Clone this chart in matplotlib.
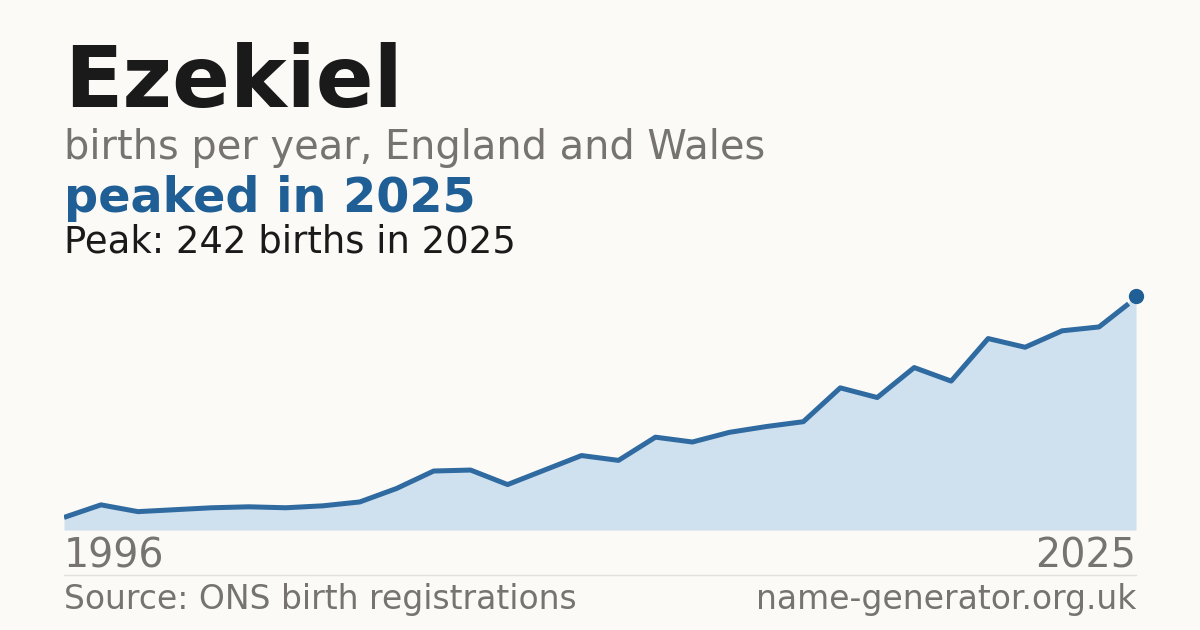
import matplotlib
matplotlib.use("Agg")
import matplotlib.pyplot as plt

years = list(range(1996, 2026))
births = [13, 26, 19, 21, 23, 24, 23, 25, 29, 43, 61, 62, 47, 62, 77, 72,
          96, 91, 101, 107, 112, 147, 137, 168, 154, 198, 189, 206, 210, 242]

bg = "#fbfaf6"
blue = "#1f5f96"
grey = "#77746f"

fig = plt.figure(figsize=(12, 6.3), dpi=100, facecolor=bg)
ax = fig.add_axes([64/1200, 1-530/630, 1072/1200, 234/630])
ax.set_facecolor(bg)
ax.fill_between(years, births, 0, color="#cfe0ef", lw=0)
ax.plot(years[:-1] + [years[-1] - 0.2], births[:-1] + [births[-1] - 8],
        color="#2f6aa0", lw=3.6, solid_capstyle="butt")
ax.plot(years[-1], births[-1], "o", ms=10, color=blue, clip_on=False)
ax.set_xlim(years[0], years[-1])
ax.set_ylim(0, max(births))
ax.axis("off")

fig.text(64/1200, 1-83/630, "Ezekiel", fontsize=61.5, fontweight="bold", color="#1a1a1a", va="center")
fig.text(64/1200, 1-148/630, "births per year, England and Wales", fontsize=28.7, color=grey, va="center")
fig.text(64/1200, 1-199/630, "peaked in 2025", fontsize=34.4, fontweight="bold", color=blue, va="center")
fig.text(64/1200, 1-242/630, "Peak: 242 births in 2025", fontsize=26.6, color="#1a1a1a", va="center")
fig.text(64/1200, 1-556/630, "1996", fontsize=28.5, color=grey, va="center")
fig.text(1136/1200, 1-556/630, "2025", fontsize=28.5, color=grey, va="center", ha="right")
fig.add_artist(plt.Line2D([64/1200, 1136/1200], [1-575/630]*2, color="#e2e0da", lw=1))
fig.text(64/1200, 1-600/630, "Source: ONS birth registrations", fontsize=23.8, color=grey, va="center")
fig.text(1136/1200, 1-600/630, "name-generator.org.uk", fontsize=23.8, color=grey, va="center", ha="right")

fig.savefig("out.png", dpi=100, facecolor=bg)
